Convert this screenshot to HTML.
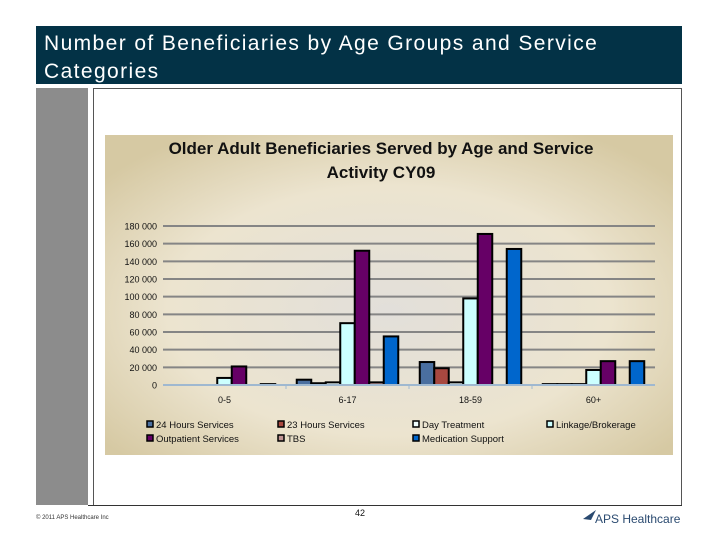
<!DOCTYPE html>
<html><head><meta charset="utf-8"><style>
body{margin:0;width:720px;height:540px;background:#fff;position:relative;overflow:hidden;font-family:"Liberation Sans",sans-serif}
.abs{position:absolute}
</style></head><body>
<div class="abs" style="left:36px;top:26px;width:646px;height:58px;background:#033246;color:#fff;font-size:21px;letter-spacing:1.4px;line-height:28px;padding:4px 0 0 8px;box-sizing:border-box">Number of Beneficiaries by Age Groups and Service<br>Categories</div>
<div class="abs" style="left:36px;top:88px;width:52px;height:417px;background:#8c8c8c"></div>
<div class="abs" style="left:93px;top:88px;width:589px;height:417px;border:1px solid #555;box-sizing:border-box;border-bottom:none"></div>
<div class="abs" style="left:88px;top:505px;width:594px;height:1px;background:#333"></div>
<svg class="abs" style="left:0;top:0" width="720" height="540" id="chart">
<defs><radialGradient id="bg" cx="50%" cy="55%" r="65%"><stop offset="0" stop-color="#e2dfda"/><stop offset="0.6" stop-color="#ece4cf"/><stop offset="1" stop-color="#d6c9a3"/></radialGradient></defs>
<rect x="105" y="135" width="568" height="320" fill="url(#bg)"/>
<text x="381" y="154" text-anchor="middle" font-size="17" font-weight="bold" fill="#111">Older Adult Beneficiaries Served by Age and Service</text>
<text x="381" y="178" text-anchor="middle" font-size="17" font-weight="bold" fill="#111">Activity CY09</text>
<g id="grid"></g><g id="bars"></g><g id="axes"></g>
<g id="legend" font-size="9.5" fill="#111"></g>
<text x="36" y="519" font-size="6" fill="#333">© 2011 APS Healthcare Inc</text>
<text x="360" y="516" font-size="9" text-anchor="middle" fill="#111">42</text>
<text x="595" y="523" font-size="12" fill="#2a4a70">APS Healthcare</text>
<path d="M583 519 L596 510 L591 520 Z" fill="#2a4a70"/>
</svg>
<script>
const categories=["0-5","6-17","18-59","60+"];
const seriesNames=["24 Hours Services","23 Hours Services","Day Treatment","Linkage/Brokerage","Outpatient Services","TBS","Medication Support"];
const s24h=[0,6000,26000,1000];
const s23h=[0,2000,19000,1000];
const sDay=[0,3000,3000,1000];
const sLink=[8000,70000,98000,17000];
const sOut=[21000,152000,171000,27000];
const sTbs=[0,3000,0,0];
const sMed=[1000,55000,154000,27000];
const series=[s24h,s23h,sDay,sLink,sOut,sTbs,sMed];
const colors=["#4a6fa0","#a84840","#f0ffff","#ccffff","#660066","#c09494","#0066cc"];
const yTicks=[0,20000,40000,60000,80000,100000,120000,140000,160000,180000];
const tickLabels=["0","20 000","40 000","60 000","80 000","100 000","120 000","140 000","160 000","180 000"];
const NS="http://www.w3.org/2000/svg";
const x0=163,x1=655,y0=385,y1=226,yMax=180000;
const y=v=>y0-(v/yMax)*(y0-y1);
const cw=(x1-x0)/categories.length;
const bw=14.5;
function mk(t,a,p){const e=document.createElementNS(NS,t);for(const k in a)e.setAttribute(k,a[k]);p.appendChild(e);return e;}
const G=document.getElementById('grid'),B=document.getElementById('bars'),A=document.getElementById('axes'),L=document.getElementById('legend');
yTicks.forEach((v,i)=>{
 if(i>0){const l=mk('line',{x1:x0,x2:x1,y1:y(v),y2:y(v),stroke:'#858585','stroke-width':2},G);
 
 }
 const t=mk('text',{x:157,y:y(v)+3.5,'text-anchor':'end','font-size':9,fill:'#111'},A);t.textContent=tickLabels[i];
 
 
});
const ax=mk('line',{x1:x0,x2:x1,y1:y0,y2:y0,stroke:'#9fb8d0','stroke-width':2},A);


categories.forEach((c,ci)=>{
 const gx=x0+ci*cw+(cw-bw*series.length)/2;
 series.forEach((s,si)=>{
  const v=s[ci]; if(v<=0) return;
  const r=mk('rect',{x:gx+si*bw,y:y(v),width:bw,height:y0-y(v),fill:colors[si],stroke:'#000','stroke-width':2},B);
  
  
 });
 const t=mk('text',{x:x0+ci*cw+cw/2,y:403,'text-anchor':'middle','font-size':9,fill:'#111'},A);t.textContent=c;
 
 
 if(ci>0){const tk=mk('line',{x1:x0+ci*cw,x2:x0+ci*cw,y1:y0,y2:y0+4,stroke:'#9fb8d0','stroke-width':1},A);
 
 }
});
const lx=[147,278,413,547],ly=[428,442];
seriesNames.forEach((n,i)=>{
 const px=lx[i%4],py=ly[Math.floor(i/4)];
 const r=mk('rect',{x:px,y:py-7,width:6,height:6,fill:colors[i],stroke:'#000','stroke-width':1.5},L);
 
 
 const t=mk('text',{x:px+9,y:py},L);t.textContent=n;
 
 
});
</script>
</body></html>
